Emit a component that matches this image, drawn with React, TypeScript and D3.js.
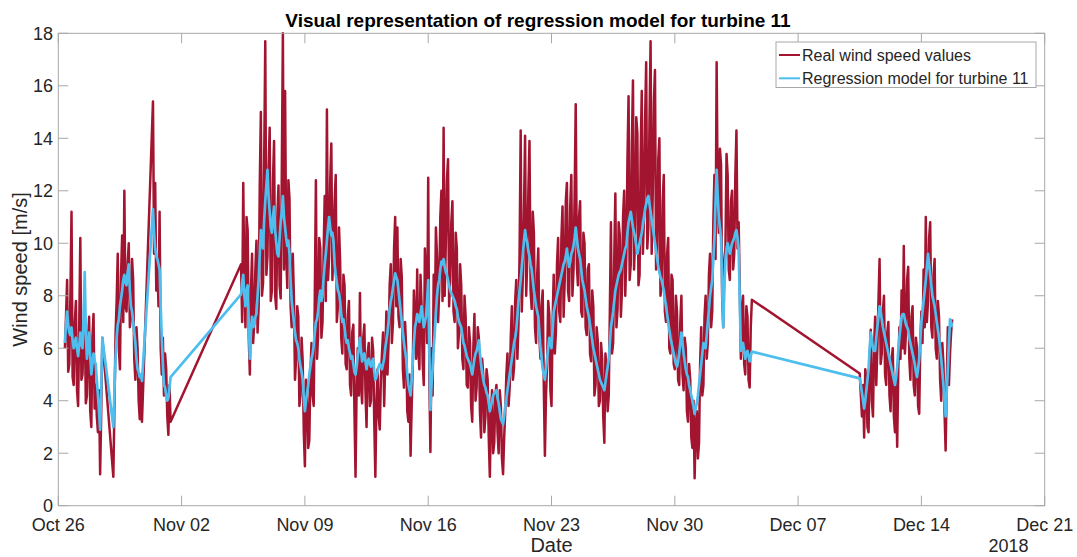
import React from "react";
import * as d3 from "d3";

const WIDTH = 1077;
const HEIGHT = 557;
const SAMPLE_STEP_MINUTES = 90;

// Start time of each contiguous block of measurements (UTC); gaps between blocks are bridged by the line.
const blockStarts = [
  "2018-10-26T09:00:00Z",
  "2018-10-29T03:00:00Z",
  "2018-10-31T09:00:00Z",
  "2018-11-05T09:00:00Z",
  "2018-12-10T12:00:00Z",
];

// Measured wind speed [m/s], one value per 90 min step
const realA = [
  6.0, 7.2, 8.6, 5.1, 5.4, 8.0, 11.2, 4.9, 4.6, 7.0, 7.8, 4.4, 3.8, 6.8, 10.2, 4.8,
  5.0, 6.6, 7.4, 3.9, 4.2, 6.2, 7.2, 3.6, 3.0, 6.4, 7.3, 3.7, 4.6, 3.4, 2.8, 4.4,
  1.2, 3.6, 6.4,
];
const realB = [
  1.1, 3.8, 6.5, 7.8, 9.6, 6.0, 5.2, 8.8, 10.3, 7.0, 12.0, 7.6, 7.4, 9.2, 10.0, 6.8,
  7.2, 9.4, 8.6, 5.6, 4.8, 6.8, 6.0, 4.0, 3.3, 5.0, 3.2,
];
const realC = [15.4, 9.6, 12.3, 8.2, 9.4, 7.6, 11.2, 6.0, 5.0, 6.4, 4.2, 5.8, 5.2, 3.4, 2.7, 4.6, 3.2];
const realD = [
  9.2, 7.0, 12.3, 8.4, 6.8, 11.0, 10.5, 6.4, 5.0, 8.2, 9.6, 6.2, 7.0, 9.0, 10.1, 6.6,
  7.6, 12.2, 15.0, 8.0, 8.5, 13.0, 17.7, 8.8, 9.5, 12.8, 14.4, 7.8, 8.2, 12.4, 13.9, 8.0,
  7.5, 11.0, 12.2, 8.4, 7.9, 12.6, 18.0, 9.0, 15.8, 9.6, 8.3, 12.4, 11.7, 7.6, 6.8, 9.6,
  8.0, 4.8, 5.6, 7.6, 7.2, 3.8, 4.2, 6.4, 5.5, 2.8, 1.5, 4.8, 4.4, 2.2, 2.5, 5.0,
  6.2, 4.2, 3.8, 8.0, 12.4, 5.6, 6.5, 10.2, 9.8, 6.4, 7.0, 9.6, 11.8, 7.8, 15.1, 8.6,
  9.5, 12.4, 13.8, 8.6, 10.1, 11.6, 12.6, 7.0, 7.6, 10.6, 9.3, 6.4, 5.8, 8.8, 8.4, 5.4,
  5.2, 7.2, 7.8, 4.6, 4.2, 6.6, 6.9, 3.6, 1.1, 4.6, 6.0, 4.2, 8.1, 4.6, 3.9, 6.4,
  6.9, 4.4, 3.0, 5.8, 6.2, 3.8, 4.0, 6.4, 5.9, 3.2, 1.1, 4.0, 5.2, 3.4, 2.9, 4.8,
  5.8, 6.6, 3.8, 5.6, 7.4, 5.0, 6.2, 8.4, 9.2, 6.2, 7.0, 9.8, 11.0, 7.6, 10.6, 7.2,
  6.8, 9.4, 8.7, 5.2, 4.5, 7.0, 6.0, 3.6, 3.2, 5.0, 1.9, 3.8, 5.4, 8.2, 7.0, 5.6,
  9.0, 6.0, 5.2, 8.8, 7.6, 5.4, 4.6, 9.8, 8.4, 6.2, 12.5, 5.0, 2.05, 6.0, 4.2, 8.8,
  6.8, 10.6, 9.5, 7.0, 8.2, 11.0, 12.0, 7.8, 14.4, 8.0, 10.0, 12.4, 13.2, 7.6, 8.6, 10.8,
  11.6, 7.4, 7.0, 10.4, 9.8, 6.0, 6.6, 9.2, 8.4, 5.6, 5.2, 8.0, 7.2, 4.6, 4.5, 6.8,
  6.2, 3.8, 3.2, 6.0, 7.3, 4.0, 4.5, 6.8, 6.4, 3.6, 2.6, 5.6, 5.0, 2.8, 3.4, 5.2,
  4.8, 2.6, 1.1, 3.6, 4.4, 2.0, 2.4, 4.2, 4.6, 2.8, 2.0, 4.4, 3.8, 1.8, 1.2, 2.6,
  3.6, 5.0, 5.8, 3.8, 4.5, 6.4, 7.6, 4.8, 5.3, 7.8, 8.6, 5.6, 6.9, 9.6, 14.3, 7.4,
  8.8, 11.2, 14.1, 8.0, 9.4, 12.0, 13.9, 8.2, 7.5, 11.2, 10.4, 6.8, 6.2, 8.8, 9.8, 6.4,
  5.6, 7.6, 8.2, 4.6, 1.9, 4.2, 5.4, 7.8, 7.3, 4.4, 3.8, 7.0, 8.8, 5.8, 6.6, 9.2,
  10.2, 7.4, 7.0, 10.2, 11.4, 7.2, 8.6, 11.6, 12.3, 8.2, 7.8, 11.4, 12.6, 8.0, 9.0, 11.8,
  15.3, 9.2, 8.4, 11.0, 11.6, 7.4, 7.2, 10.4, 10.0, 6.8, 6.5, 9.0, 9.2, 5.8, 5.5, 8.2,
  7.6, 4.2, 4.6, 6.8, 6.3, 3.8, 4.0, 6.2, 5.6, 3.4, 2.4, 5.8, 5.2, 3.6, 4.2, 7.4,
  10.8, 5.8, 6.2, 9.4, 11.9, 6.8, 7.5, 10.8, 10.3, 7.2, 8.2, 11.0, 12.0, 8.0, 9.6, 13.2,
  15.6, 8.6, 9.2, 13.8, 16.2, 9.0, 10.4, 14.8, 14.2, 8.4, 8.8, 13.4, 15.8, 9.6, 11.0, 14.6,
  16.9, 9.8, 10.6, 14.6, 17.7, 9.6, 12.0, 15.4, 16.6, 9.0, 9.4, 13.2, 14.0, 8.0, 8.4, 11.6,
  12.6, 7.4, 7.0, 9.6, 10.2, 6.0, 5.8, 8.8, 8.6, 5.4, 5.2, 8.0, 7.4, 4.8, 4.6, 7.0,
  8.0, 5.0, 4.4, 6.4, 6.0, 3.6, 3.2, 5.4, 4.8, 2.6, 2.2, 4.0, 1.05, 3.0, 3.6, 1.8,
  2.4, 5.4, 6.8, 4.2, 4.6, 7.2, 8.0, 5.6, 6.2, 8.8, 9.6, 6.8, 7.4, 10.8, 12.6, 9.4,
  16.9, 11.6, 10.4, 13.6, 13.0, 8.0, 6.8, 9.4, 9.8, 13.4, 12.6, 9.0, 8.6, 11.6, 12.0, 9.0,
  9.6, 12.6, 14.3, 9.8, 10.8, 8.4, 5.6, 7.4, 8.0, 5.4, 5.0, 7.6, 7.2, 4.8, 4.5, 6.8,
  7.85,
];
const realE = [
  5.04, 4.2, 3.4, 4.6, 2.6, 5.2, 4.8, 3.0, 2.8, 5.6,
  6.7, 4.0, 3.4, 6.0, 7.2, 4.6, 6.0, 7.8, 9.4, 5.4,
  5.8, 7.4, 8.0, 5.0, 4.6, 6.6, 7.0, 4.2, 3.6, 5.6,
  6.0, 3.4, 2.8, 4.8, 2.25, 5.2, 6.8, 5.6, 8.2, 6.0,
  9.9, 5.8, 6.6, 8.6, 9.1, 5.6, 4.8, 7.2, 7.6, 4.6,
  4.2, 6.4, 6.0, 3.8, 3.5, 6.2, 7.4, 6.2, 9.0, 6.8,
  11.0, 7.0, 7.8, 10.2, 10.8, 6.8, 6.4, 8.8, 9.4, 6.0,
  5.6, 7.8, 7.2, 4.8, 4.0, 6.2, 5.4, 3.6, 2.1, 4.6,
  6.8, 4.6, 5.8, 6.6, 7.1,
];

// Regression model output [m/s] at the same time stamps
const modelA = [
  6.2, 6.9, 7.4, 6.9, 6.6, 6.5, 6.8, 6.3, 6.0, 6.2, 6.4, 6.0, 5.7, 6.1, 6.6, 6.2,
  6.0, 7.2, 8.9, 6.6, 5.6, 6.1, 6.6, 5.7, 5.0, 5.4, 5.8, 5.5, 5.4, 4.8, 4.2, 3.6,
  2.9, 4.4, 6.4,
];
const modelB = [
  3.0, 4.4, 5.6, 6.4, 6.9, 7.1, 7.6, 7.9, 8.2, 8.6, 8.8, 8.5, 8.4, 8.9, 9.2, 8.2,
  7.6, 7.4, 7.0, 6.6, 6.2, 5.6, 5.2, 5.1, 4.9, 5.0, 4.75,
];
const modelC = [11.3, 10.4, 9.8, 9.5, 9.4, 9.2, 9.0, 7.6, 6.4, 5.4, 4.6, 4.5, 4.2, 4.0, 4.1, 4.5, 4.9];
const modelD = [
  8.05, 8.5, 8.8, 8.0, 7.6, 8.2, 8.4, 7.0, 5.6, 6.6, 7.2, 6.8, 6.9, 7.2, 7.3, 8.0,
  8.6, 9.6, 10.5, 10.0, 9.8, 10.9, 11.6, 12.2, 12.8, 11.8, 11.2, 10.6, 10.4, 11.0, 11.4, 10.5,
  10.0, 9.6, 9.5, 10.2, 10.8, 11.2, 11.8, 11.0, 10.6, 10.2, 9.9, 10.1, 9.6, 8.6, 7.8, 7.4,
  7.0, 6.6, 6.3, 6.2, 6.0, 5.6, 5.3, 5.1, 4.8, 4.1, 3.6, 4.0, 4.3, 4.6, 5.0, 5.3,
  5.6, 5.8, 6.1, 6.6, 7.0, 7.1, 7.4, 7.9, 8.2, 7.8, 8.0, 8.7, 9.2, 9.6, 10.1, 10.6,
  11.0, 10.6, 10.3, 10.4, 10.0, 9.2, 8.8, 8.5, 8.2, 8.1, 7.8, 7.3, 7.0, 7.1, 6.8, 6.4,
  6.2, 6.3, 6.0, 5.8, 5.6, 5.7, 5.4, 5.1, 5.0, 5.3, 5.7, 6.0, 6.4, 5.9, 5.5, 5.7,
  5.8, 5.5, 5.2, 5.5, 5.6, 5.4, 5.3, 5.5, 5.6, 5.1, 4.8, 4.9, 5.1, 5.3, 5.4, 5.3,
  5.2, 5.4, 5.6, 6.0, 6.3, 6.6, 7.0, 7.5, 7.8, 8.0, 8.3, 8.6, 8.85, 8.7, 8.6, 8.2,
  7.8, 7.4, 7.0, 6.6, 6.2, 5.9, 5.6, 5.0, 4.6, 4.4, 4.2, 4.8, 5.5, 6.2, 6.8, 7.0,
  7.3, 7.2, 7.0, 7.3, 7.6, 7.2, 6.8, 7.0, 7.2, 7.8, 8.6, 6.0, 3.65, 4.6, 5.2, 6.0,
  6.6, 7.4, 8.0, 8.4, 8.6, 9.0, 9.3, 9.2, 9.4, 9.1, 8.9, 8.8, 8.6, 8.4, 8.2, 8.1,
  8.0, 7.9, 7.8, 7.6, 7.5, 7.2, 7.0, 6.9, 6.8, 6.5, 6.2, 6.1, 5.9, 5.7, 5.6, 5.5,
  5.4, 5.2, 5.0, 5.3, 5.6, 5.8, 5.9, 6.1, 6.3, 5.8, 5.4, 5.1, 4.8, 4.6, 4.5, 4.3,
  4.2, 3.9, 3.6, 3.8, 4.0, 4.2, 4.3, 4.3, 4.4, 4.1, 3.9, 3.6, 3.3, 3.2, 3.1, 3.4,
  3.8, 4.1, 4.4, 4.7, 5.0, 5.3, 5.6, 5.9, 6.2, 6.4, 6.7, 7.2, 7.8, 8.2, 8.6, 9.1,
  9.6, 10.1, 10.5, 10.2, 10.0, 9.7, 9.5, 9.2, 9.0, 8.6, 8.2, 7.9, 7.6, 7.4, 7.2, 6.6,
  6.0, 5.6, 5.2, 5.0, 4.8, 5.2, 5.6, 6.0, 6.4, 6.2, 6.0, 6.7, 7.4, 7.6, 7.8, 8.0,
  8.2, 8.4, 8.6, 8.8, 9.0, 9.2, 9.3, 9.5, 9.8, 9.4, 9.1, 9.3, 9.6, 9.7, 9.9, 10.2,
  10.6, 10.2, 9.8, 9.6, 9.4, 9.0, 8.6, 8.4, 8.2, 7.9, 7.6, 7.4, 7.2, 6.9, 6.6, 6.3,
  6.0, 5.8, 5.6, 5.4, 5.2, 5.0, 4.8, 4.7, 4.6, 4.5, 4.4, 4.7, 5.0, 5.3, 5.6, 6.2,
  6.8, 7.1, 7.4, 7.8, 8.2, 8.4, 8.6, 8.8, 8.9, 9.0, 9.2, 9.4, 9.6, 9.8, 9.9, 10.4,
  10.8, 11.0, 11.2, 10.9, 10.6, 10.4, 10.2, 9.9, 9.6, 9.8, 10.0, 10.2, 10.4, 10.7, 11.0, 11.3,
  11.5, 11.7, 11.8, 11.5, 11.2, 10.9, 10.6, 10.3, 10.0, 9.7, 9.4, 9.1, 8.9, 8.7, 8.6, 8.4,
  8.2, 7.9, 7.6, 7.3, 7.0, 6.7, 6.4, 6.2, 6.0, 5.8, 5.6, 5.4, 5.3, 5.5, 5.8, 6.2,
  6.6, 6.2, 5.8, 5.5, 5.2, 5.0, 4.9, 4.6, 4.4, 4.2, 4.0, 3.8, 3.5, 3.7, 3.9, 4.2,
  4.6, 5.0, 5.4, 5.8, 6.2, 6.1, 6.0, 6.5, 7.0, 7.5, 8.0, 8.3, 8.6, 9.4, 10.2, 11.6,
  12.8, 11.8, 11.0, 10.6, 10.2, 8.4, 6.8, 8.2, 9.4, 9.8, 10.0, 9.8, 9.6, 9.8, 10.0, 10.1,
  10.2, 10.4, 10.5, 10.2, 9.8, 7.8, 5.9, 6.1, 6.2, 5.9, 5.6, 5.8, 5.9, 5.7, 5.5, 5.7,
  5.87,
];
const modelE = [
  4.85, 4.6, 4.3, 4.0, 3.7, 4.0, 4.4, 4.8, 5.2, 6.0,
  6.6, 6.3, 6.0, 5.9, 5.9, 6.4, 6.8, 7.2, 7.6, 7.4,
  7.1, 6.8, 6.6, 6.4, 6.2, 6.0, 5.8, 5.6, 5.4, 5.2,
  5.0, 4.8, 4.6, 4.9, 5.3, 5.9, 6.4, 6.8, 7.2, 7.3,
  7.3, 7.1, 6.9, 6.8, 6.7, 6.4, 6.2, 6.0, 5.8, 5.6,
  5.4, 5.1, 4.9, 5.2, 5.6, 6.3, 7.0, 7.4, 7.8, 8.2,
  8.6, 9.1, 9.6, 9.2, 8.8, 8.4, 8.0, 7.8, 7.6, 7.3,
  7.0, 6.7, 6.4, 6.0, 5.6, 5.1, 4.6, 4.0, 3.4, 4.3,
  5.2, 6.2, 7.1, 7.0, 6.8,
];

const realBlocks = [realA, realB, realC, realD, realE];
const modelBlocks = [modelA, modelB, modelC, modelD, modelE];

const xTickDates = [
  "2018-10-26", "2018-11-02", "2018-11-09", "2018-11-16", "2018-11-23",
  "2018-11-30", "2018-12-07", "2018-12-14", "2018-12-21",
];
const yTicks = [0, 2, 4, 6, 8, 10, 12, 14, 16, 18];

const legendLabels = ["Real wind speed values", "Regression model for turbine 11"];

const REAL_COLOR = "#A2142F";
const MODEL_COLOR = "#4DBEEE";
const AXIS_COLOR = "#a8a8a8";
const TEXT_COLOR = "#262626";
const FONT = "'Liberation Sans', Arial, Helvetica, sans-serif";

type Sample = { t: Date; real: number; model: number };

const samples: Sample[] = blockStarts.flatMap((start, b) => {
  const t0 = new Date(start);
  return realBlocks[b].map((v, i) => ({
    t: d3.utcMinute.offset(t0, i * SAMPLE_STEP_MINUTES),
    real: v,
    model: modelBlocks[b][i],
  }));
});

const plot = { left: 58.3, right: 1044.7, top: 33.3, bottom: 505.7 };

export default function App() {
  const x = d3
    .scaleUtc()
    .domain([new Date("2018-10-26T00:00:00Z"), new Date("2018-12-21T00:00:00Z")])
    .range([plot.left, plot.right]);
  const y = d3.scaleLinear().domain([0, 18]).range([plot.bottom, plot.top]);

  const realLine = d3
    .line<Sample>()
    .defined((d) => Number.isFinite(d.real))
    .x((d) => x(d.t))
    .y((d) => y(d.real));
  const modelLine = d3
    .line<Sample>()
    .defined((d) => Number.isFinite(d.model))
    .x((d) => x(d.t))
    .y((d) => y(d.model));

  const fmt = d3.utcFormat("%b %d");
  const tickLen = 10;

  return (
    <svg
      width={WIDTH}
      height={HEIGHT}
      style={{ position: "absolute", left: 0, top: 0, background: "#fff" }}
      fontFamily={FONT}
    >
      <rect x={0} y={0} width={WIDTH} height={HEIGHT} fill="#fff" />
      <defs>
        <clipPath id="plotClip">
          <rect x={plot.left} y={plot.top - 2} width={plot.right - plot.left} height={plot.bottom - plot.top + 2} />
        </clipPath>
      </defs>

      <g clipPath="url(#plotClip)" fill="none" strokeLinejoin="round">
        <path d={realLine(samples) ?? ""} stroke={REAL_COLOR} strokeWidth={2.5} />
        <path d={modelLine(samples) ?? ""} stroke={MODEL_COLOR} strokeWidth={2.7} />
      </g>

      {/* axes box */}
      <rect
        x={plot.left}
        y={plot.top}
        width={plot.right - plot.left}
        height={plot.bottom - plot.top}
        fill="none"
        stroke={AXIS_COLOR}
        strokeWidth={1}
      />

      {/* x ticks (inward, top and bottom) */}
      {xTickDates.map((s) => {
        const d = new Date(s + "T00:00:00Z");
        const px = x(d);
        return (
          <g key={s}>
            <line x1={px} x2={px} y1={plot.bottom} y2={plot.bottom - tickLen} stroke={AXIS_COLOR} />
            <line x1={px} x2={px} y1={plot.top} y2={plot.top + tickLen} stroke={AXIS_COLOR} />
            <text x={px} y={530.5} textAnchor="middle" fontSize={18} fill={TEXT_COLOR}>
              {fmt(d)}
            </text>
          </g>
        );
      })}

      {/* y ticks (inward, left and right) */}
      {yTicks.map((v) => {
        const py = y(v);
        return (
          <g key={v}>
            <line x1={plot.left} x2={plot.left + tickLen} y1={py} y2={py} stroke={AXIS_COLOR} />
            <line x1={plot.right} x2={plot.right - tickLen} y1={py} y2={py} stroke={AXIS_COLOR} />
            <text x={53} y={py + 6.5} textAnchor="end" fontSize={18} fill={TEXT_COLOR}>
              {v}
            </text>
          </g>
        );
      })}

      {/* titles */}
      <text x={538} y={26.5} textAnchor="middle" fontSize={19} fontWeight="bold" fill="#000">
        Visual representation of regression model for turbine 11
      </text>
      <text x={551.5} y={552} textAnchor="middle" fontSize={20} fill={TEXT_COLOR}>
        Date
      </text>
      <text x={1008.5} y={552} textAnchor="middle" fontSize={18} fill={TEXT_COLOR}>
        2018
      </text>
      <text
        transform={`translate(27, ${(plot.top + plot.bottom) / 2}) rotate(-90)`}
        textAnchor="middle"
        fontSize={20}
        fill={TEXT_COLOR}
      >
        Wind speed [m/s]
      </text>

      {/* legend */}
      <g>
        <rect x={776} y={42} width={260} height={45.5} fill="#fff" stroke={AXIS_COLOR} strokeWidth={1} />
        {legendLabels.map((label, i) => {
          const cy = 55 + i * 23.3;
          return (
            <g key={label}>
              <line x1={779} x2={800} y1={cy} y2={cy} stroke={i === 0 ? REAL_COLOR : MODEL_COLOR} strokeWidth={2} />
              <text x={802} y={cy + 5.6} fontSize={16} fill={TEXT_COLOR}>
                {label}
              </text>
            </g>
          );
        })}
      </g>
    </svg>
  );
}
